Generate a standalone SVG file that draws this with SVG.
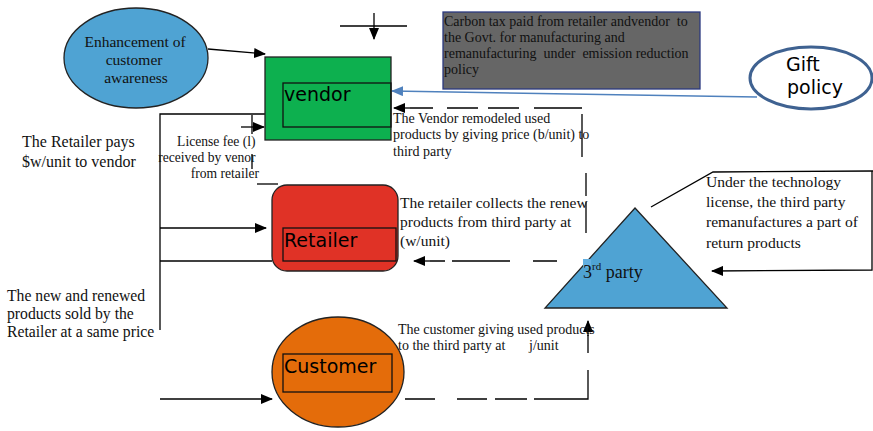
<svg xmlns="http://www.w3.org/2000/svg" width="873" height="431" viewBox="0 0 873 431">
  <style>
    .serif { font-family: "Liberation Serif", "Times New Roman", serif; fill: #111; }
    .sans { font-family: "DejaVu Sans", "Liberation Sans", sans-serif; fill: #000; }
    .ln { fill: none; stroke: #000; stroke-width: 1.3; }
    .node { stroke: #222; stroke-width: 1.3; }
    .inner { fill: none; stroke: #111; stroke-width: 1.3; }
  </style>
  <defs>
    <marker id="ah" markerUnits="userSpaceOnUse" markerWidth="12" markerHeight="10" refX="11" refY="5" orient="auto">
      <path d="M0,0 L12,5 L0,10 Z" fill="#000"/>
    </marker>
    <marker id="ahBlue" markerUnits="userSpaceOnUse" markerWidth="12" markerHeight="10" refX="11" refY="5" orient="auto">
      <path d="M0,0 L12,5 L0,10 Z" fill="#4f81bd"/>
    </marker>
  </defs>
  <rect width="873" height="431" fill="#fff"/>

  <!-- connectors -->
  <g id="connectors">
    <!-- awareness to vendor -->
    <path class="ln" d="M208,49 L265,54" marker-end="url(#ah)"/>
    <!-- top input -->
    <path class="ln" d="M340,26 L407,26"/>
    <path class="ln" d="M374,13 L374,39" marker-end="url(#ah)"/>
    <!-- gift policy to vendor -->
    <path d="M757,97 L392,91" fill="none" stroke="#4f81bd" stroke-width="1.5" marker-end="url(#ahBlue)"/>
    <!-- third party to vendor (dashed) -->
    <path class="ln" d="M582,108 L534,108 M519,108 L488,108 M478,108 L447,108 M433,108 L410,108"/>
    <path class="ln" d="M410,108 L394,108" marker-end="url(#ah)"/>
    <path class="ln" d="M582,114 L582,157 M586,173 L586,196 M586,202 L586,233"/>
    <!-- third party to retailer (dashed) -->
    <path class="ln" d="M557,261 L533,261 M510,261 L452,261 M445,261 L430,261"/>
    <path class="ln" d="M430,261 L414,261" marker-end="url(#ah)"/>
    <!-- left bus: payments and sales -->
    <path class="ln" d="M272,114 L160,114 L160,330"/>
    <path class="ln" d="M160,228 L266,228" marker-end="url(#ah)"/>
    <path class="ln" d="M160,261 L272,261"/>
    <path class="ln" d="M241,127 L264,127" marker-end="url(#ah)"/>
    <path class="ln" d="M252,115 L252,134 M252,154 L252,169"/>
    <path class="ln" d="M257,184 L278,184"/>
    <!-- into customer -->
    <path class="ln" d="M160,399 L272,399" marker-end="url(#ah)"/>
    <!-- customer to third party (dashed) -->
    <path class="ln" d="M405,399 L435,399 M457,399 L487,399 M495,399 L527,399 M534,399 L588,399 L588,370 M588,353 L588,335"/>
    <path class="ln" d="M588,336 L588,321" marker-end="url(#ah)"/>
    <!-- technology license loop -->
    <path class="ln" d="M651,207 L713,172 L873,171"/>
    <path class="ln" d="M872,171 L872,270 L712,271" marker-end="url(#ah)"/>
  </g>

  <!-- enhancement of customer awareness -->
  <g id="awareness">
    <ellipse class="node" cx="136" cy="58" rx="72" ry="50" fill="#4fa3d3"/>
    <text class="serif" font-size="15.5" text-anchor="middle">
      <tspan x="137" y="47">Enhancement of</tspan>
      <tspan x="136" y="65">customer</tspan>
      <tspan x="136" y="83">awareness</tspan>
    </text>
  </g>

  <!-- vendor -->
  <g id="vendor">
    <rect class="node" x="265" y="57" width="126" height="83" fill="#0db04f"/>
    <rect class="inner" x="283" y="83" width="108" height="44"/>
    <text class="sans" x="284" y="101" font-size="19">vendor</text>
  </g>

  <!-- carbon tax note -->
  <g id="carbon-tax">
    <rect x="443" y="12" width="257" height="77" fill="#666" stroke="#2b3a80" stroke-width="1.3"/>
    <text class="serif" font-size="14" xml:space="preserve"><tspan x="444" y="26">Carbon tax paid from retailer andvendor  to</tspan><tspan x="444" y="42">the Govt. for manufacturing and</tspan><tspan x="444" y="58">remanufacturing  under  emission reduction</tspan><tspan x="444" y="74">policy</tspan></text>
  </g>

  <!-- gift policy -->
  <g id="gift-policy">
    <ellipse cx="811" cy="78" rx="61" ry="31" fill="#fff" stroke="#3f6291" stroke-width="3"/>
    <text class="sans" font-size="19">
      <tspan x="786" y="71">Gift</tspan>
      <tspan x="787" y="94">policy</tspan>
    </text>
  </g>

  <!-- retailer -->
  <g id="retailer">
    <rect class="node" x="272" y="185" width="126" height="86" rx="15" fill="#e03226"/>
    <rect class="inner" x="283" y="228" width="113" height="33"/>
    <text class="sans" x="284" y="247" font-size="19">Retailer</text>
  </g>

  <!-- customer -->
  <g id="customer">
    <ellipse class="node" cx="338" cy="372" rx="66" ry="55" fill="#e46c0a"/>
    <rect class="inner" x="283" y="354" width="109" height="38"/>
    <text class="sans" x="284" y="373" font-size="19">Customer</text>
  </g>

  <!-- third party -->
  <g id="third-party">
    <path class="node" d="M635,208 L727,308 L545,308 Z" fill="#4fa3d3"/>
    <rect x="583" y="259" width="8" height="9" fill="#62afe0"/>
    <text class="serif" x="583" y="278" font-size="18">3<tspan font-size="11" dy="-8">rd</tspan><tspan dy="8"> party</tspan></text>
  </g>

  <!-- flow labels -->
  <g id="labels">
    <text class="serif" font-size="16">
      <tspan x="22" y="147">The Retailer pays</tspan>
      <tspan x="22" y="167">$w/unit to vendor</tspan>
    </text>
    <text class="serif" font-size="13.6" text-anchor="end">
      <tspan x="259" y="146">License fee (l)</tspan>
      <tspan x="259" y="162">received by venor</tspan>
      <tspan x="259" y="178">from retailer</tspan>
    </text>
    <text class="serif" font-size="15.7">
      <tspan x="7" y="301">The new and renewed</tspan>
      <tspan x="7" y="319">products sold by the</tspan>
      <tspan x="7" y="337">Retailer at a same price</tspan>
    </text>
    <text class="serif" font-size="14">
      <tspan x="393" y="123">The Vendor remodeled used</tspan>
      <tspan x="393" y="139">products by giving price (b/unit) to</tspan>
      <tspan x="393" y="156">third party</tspan>
    </text>
    <text class="serif" font-size="15.5">
      <tspan x="400" y="208">The retailer collects the renew</tspan>
      <tspan x="400" y="227">products from third party at</tspan>
      <tspan x="400" y="246">(w/unit)</tspan>
    </text>
    <text class="serif" font-size="15.6">
      <tspan x="706" y="187">Under the technology</tspan>
      <tspan x="706" y="207">license, the third party</tspan>
      <tspan x="706" y="227">remanufactures a part of</tspan>
      <tspan x="706" y="248">return products</tspan>
    </text>
    <text class="serif" font-size="14">
      <tspan x="398" y="334">The customer giving used products</tspan>
      <tspan x="398" y="350">to the third party at</tspan>
      <tspan x="529" y="350">j/unit</tspan>
    </text>
  </g>
</svg>
